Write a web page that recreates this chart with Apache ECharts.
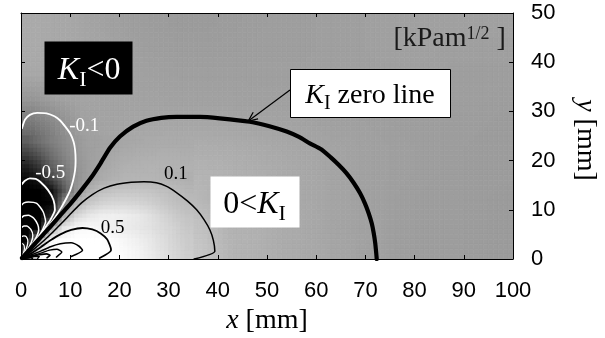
<!DOCTYPE html>
<html><head><meta charset="utf-8">
<script src="https://cdn.jsdelivr.net/npm/echarts@6/dist/echarts.min.js"></script>
<style>html,body{margin:0;padding:0;background:#fff}#c{width:605px;height:338px}</style>
</head><body><div id="c"></div>
<script>
// ---------------- data ----------------
const xTicks = [0, 10, 20, 30, 40, 50, 60, 70, 80, 90, 100];
const yTicks = [0, 10, 20, 30, 40, 50];

// shading (0 = black, 255 = white); 5 mm cells, rows from y=50 down, columns from x=0
const shadeCoarse = [
  [170,168,165,161,158,156,155,155,156,157,158,158,159,159,160,160,160,160,160,160],
  [170,168,166,163,160,158,157,157,157,158,158,158,159,159,160,160,160,159,159,159],
  [168,167,165,163,161,160,159,159,159,159,159,159,159,159,159,159,159,158,158,158],
  [150,160,164,163,162,162,161,161,161,160,160,160,159,159,159,159,158,158,158,157],
  [120,140,160,163,165,166,166,166,165,164,163,162,161,160,159,158,158,157,157,156],
  [90,130,158,166,170,172,173,173,172,170,168,166,164,162,160,159,158,157,156,156],
  [40,105,162,174,178,180,180,179,177,174,171,168,165,162,160,159,158,157,156,156],
  [5,90,185,195,196,193,189,180,177,175,171,168,165,162,160,158,157,157,156,155],
  [0,70,225,238,228,212,198,190,178,176,172,169,165,162,160,158,157,157,156,155],
  [0,210,255,255,242,222,203,195,180,177,172,169,166,163,160,158,157,157,156,155]
];
// finer 2.5 mm cells near the crack tip, rows from y=25 down, columns from x=0 to 35
const shadeFine = [
  [96,112,128,140,153,160,162,164,167,169,170,171,171,171],
  [64,85,112,133,150,159,163,168,171,173,174,175,175,174],
  [32,56,96,122,146,158,167,172,176,178,179,179,178,177],
  [10,25,70,110,145,160,171,177,180,181,181,180,178,176],
  [0,0,15,85,148,175,190,196,198,198,196,192,188,182],
  [0,0,5,135,178,200,210,215,215,213,208,200,193,187],
  [0,0,40,170,215,230,238,240,238,233,225,214,203,195],
  [0,0,172,232,248,250,246,240,236,232,226,218,210,200],
  [0,175,255,255,255,255,255,252,246,240,232,222,212,203],
  [60,255,255,255,255,255,255,255,250,244,235,225,215,205]
];

// K_I zero line
const zeroLine = [[0.2,0.2],[2,2.2],[4,4.4],[6,6.6],[8,8.9],[10.2,11.4],[12.3,14.0],[14.3,16.6],[16.2,19.5],[18.1,22.6],[20.1,24.9],[22.8,26.9],[25.5,28.1],[28.5,28.7],[31.6,28.9],[36.4,28.9],[40.4,28.6],[46.5,27.9],[50.5,27.0],[54,25.9],[56.5,24.8],[58.7,23.5],[61,22.3],[62.9,20.7],[64.6,19.1],[66.1,17.5],[67.6,15.5],[68.9,13.4],[69.9,11.3],[70.7,9.2],[71.3,7.2],[71.7,5.2],[72,3.2],[72.2,1.2],[72.3,0]];
// positive contours (black)
const posLevel01 = [[0.4,0.3],[2.5,1.9],[4.5,3.6],[6.5,5.5],[8.5,7.5],[10.2,9.3],[12.3,11.4],[14.5,13.1],[16.9,14.4],[19.5,15.2],[22.4,15.6],[25,15.7],[27.5,15.5],[29.5,14.8],[31.6,13.5],[33.8,11.8],[35.7,10],[37.2,8],[38.4,5.9],[39.1,3.8],[39.4,1.6],[35.2,0]];
const posLevel05 = [[0.5,0.3],[2,1.1],[4,2.4],[6,3.8],[8,5.0],[10.2,5.9],[12.5,6.3],[14.5,6.0],[16.2,5.2],[17.5,4.0],[18.2,2.4],[18.3,1.8],[16,0.2]];
const posLevel1 = [[0.4,0.25],[2,0.8],[4,1.6],[6,2.5],[8,3.1],[10.2,3.3],[11.8,2.6],[12.5,1.8],[10.2,0.5]];
const posLevel2 = [[0.4,0.2],[2,0.6],[4,1.2],[5.8,1.8],[7.3,2.0],[8.3,1.4],[7.2,0.4]];
const posLevel3 = [[0.3,0.15],[2,0.45],[3.8,0.85],[5.2,1.05],[5.9,0.75],[5.3,0.25]];
const posLevel4 = [[0.2,0.1],[1.5,0.3],[2.8,0.55],[3.7,0.5],[3.4,0.15]];
const posLevel5 = [[0.1,0.05],[1,0.2],[2,0.3],[2.3,0.12]];
// negative contours (white)
const negLevel01 = [[0.2,26.6],[0.8,28.3],[1.8,29.3],[3.3,29.7],[5.2,29.6],[6.8,29.0],[7.9,28.2],[9,26.9],[10,25.5],[10.7,23.8],[11,22.1],[11.1,20],[11,18.1],[10.6,16],[10,14],[9.2,12.3],[8.2,10.5],[7,8.6],[5.6,6.6],[4.1,4.6],[2.6,2.7],[1.2,1.2],[0.2,0.1]];
const negLevel05 = [[0,15],[0.8,15.9],[1.8,16.4],[3,16.3],[3.9,15.7],[5.5,14],[6.6,12],[6.9,10],[6.0,8],[4.8,6.2],[3.6,4.4],[2.4,2.7],[1.1,1.2],[0.2,0.1]];
const negLevel1 = [[0,10.8],[0.6,11.4],[1.5,11.6],[3.2,11.3],[4.5,9.6],[5.0,7.6],[4.4,6],[3.4,4.3],[2.2,2.5],[1,1.1],[0.2,0.1]];
const negLevel2 = [[0,8.3],[0.6,8.8],[1.5,8.9],[2.6,8.3],[3.4,7],[3.6,5.9],[3.2,4.6],[2.3,3],[1.3,1.5],[0.2,0.15]];
const negLevel3 = [[0,6.3],[0.6,6.7],[1.2,6.7],[2.0,6],[2.4,4.8],[2.1,3.4],[1.4,2],[0.2,0.2]];
const negLevel4 = [[0,4.5],[0.6,4.7],[1.1,4.5],[1.4,3.6],[1.2,2.5],[0.7,1.3],[0.1,0.2]];
const negLevel5 = [[0,3.2],[0.5,3.0],[0.7,2.2],[0.5,1.2],[0.1,0.3]];

// contour value labels [text, x, y]
const negLabels = [['-0.1', 12.85, 27.03], ['-0.5', 5.93, 17.48]];
const posLabels = [['0.1', 31.5, 17.24], ['0.5', 18.63, 6.3]];
// annotation anchors (box centres) in data units
const noteAnchors = [[13.52, 38.88], [70.93, 33.84], [47.46, 11.61]];
const unitAnchor = [[87.13, 44.7]];
const arrowEnds = [[54.67, 34.35, 46.2, 28.05]];

// ---------------- chart ----------------
const SERIF = '"Liberation Serif","Times New Roman",serif';
const SANS = '"Liberation Sans",Arial,sans-serif';
const measureCtx = document.createElement('canvas').getContext('2d');
function textWidth(t, size, italic) {
  measureCtx.font = (italic ? 'italic ' : '') + size + 'px ' + SERIF;
  return measureCtx.measureText(t).width;
}

function cellData(grid, cell, yTop) {
  const out = [];
  grid.forEach(function (row, r) {
    row.forEach(function (v, c) { out.push([(c + 0.5) * cell, yTop - (r + 0.5) * cell, v]); });
  });
  return out;
}
// smooth shading inside each cell from the neighbouring read values
function sampler(grid, cell, yTop) {
  const R = grid.length, C = grid[0].length;
  return function (x, y) {
    let fc = x / cell - 0.5, fr = (yTop - y) / cell - 0.5;
    fc = Math.max(0, Math.min(C - 1, fc)); fr = Math.max(0, Math.min(R - 1, fr));
    const c0 = Math.min(C - 2, Math.floor(fc)), r0 = Math.min(R - 2, Math.floor(fr));
    const t = fc - c0, u = fr - r0;
    const a = grid[r0][c0], b = grid[r0][c0 + 1], c = grid[r0 + 1][c0], d = grid[r0 + 1][c0 + 1];
    return (a * (1 - t) + b * t) * (1 - u) + (c * (1 - t) + d * t) * u;
  };
}
function cellRenderer(grid, cell, yTop, n) {
  const sample = sampler(grid, cell, yTop);
  return function (params, api) {
    const x = api.value(0), y = api.value(1);
    const children = [];
    const s = cell / n;
    for (let i = 0; i < n; i++) {
      for (let j = 0; j < n; j++) {
        const xa = x - cell / 2 + i * s, yb = y + cell / 2 - j * s;
        const g = Math.max(0, Math.min(255, Math.round(sample(xa + s / 2, yb - s / 2))));
        const p0 = api.coord([xa, yb]);
        const p1 = api.coord([xa + s, yb - s]);
        const col = 'rgb(' + g + ',' + g + ',' + g + ')';
        children.push({ type: 'rect', shape: { x: p0[0], y: p0[1], width: p1[0] - p0[0], height: p1[1] - p0[1] },
          style: { fill: col, stroke: col, lineWidth: 0.7 } });
      }
    }
    return { type: 'group', children: children };
  };
}
function contour(data, color, width) {
  return { type: 'line', data: data, xAxisIndex: 0, yAxisIndex: 0, symbol: 'none', showSymbol: false,
    smooth: 0.2, silent: true, animation: false, z: 3, clip: true,
    lineStyle: { color: color, width: width, cap: 'round', join: 'round' }, emphasis: { disabled: true } };
}
function textSeries(list, color) {
  return { type: 'custom', xAxisIndex: 0, yAxisIndex: 0, silent: true, animation: false, z: 4, clip: false,
    data: list.map(function (d) { return [d[1], d[2]]; }), encode: { x: 0, y: 1 },
    renderItem: function (params, api) {
      const p = api.coord([api.value(0), api.value(1)]);
      return { type: 'text', x: p[0], y: p[1], style: { text: list[params.dataIndex][0], fill: color,
        fontFamily: SERIF, fontSize: 19, align: 'center', verticalAlign: 'middle' } };
    } };
}
// note boxes: parts = [text, size, italic, drop below the baseline]
const noteStyles = [
  { w: 88, h: 53, fill: '#000', stroke: null, color: '#fff', dx: 1.7, base: 13,
    parts: [['K', 32, true, 0], ['I', 22, false, 7], ['<0', 32, false, 0]] },
  { w: 160, h: 48, fill: '#fff', stroke: '#000', color: '#000', dx: 0, base: 12.5,
    parts: [['K', 28, true, 0], ['I', 20, false, 5], [' zero line', 28, false, 0]] },
  { w: 89, h: 51, fill: '#fff', stroke: null, color: '#000', dx: 0, base: 13,
    parts: [['0<', 32, false, 0], ['K', 32, true, 0], ['I', 22, false, 7]] }
];

const axisBase = {
  type: 'value', z: 10,
  axisLine: { show: true, onZero: false, lineStyle: { color: '#000', width: 1 } },
  axisTick: { show: true, inside: true, length: 4, lineStyle: { color: '#000', width: 1 } },
  splitLine: { show: false }, minorTick: { show: false }
};

const chart = echarts.init(document.getElementById('c'), null, { renderer: 'canvas' });
chart.setOption({
  backgroundColor: '#fff',
  animation: false,
  grid: { left: 21, top: 13, width: 492, height: 246, containLabel: false, outerBoundsMode: 'none' },
  xAxis: [
    Object.assign({}, axisBase, {
      position: 'bottom', min: xTicks[0], max: xTicks[xTicks.length - 1], interval: xTicks[1] - xTicks[0],
      axisLabel: { show: true, color: '#000', fontFamily: SANS, fontSize: 22, margin: 21 },
      name: '{i|x} [mm]', nameLocation: 'middle', nameGap: 48,
      nameTextStyle: { color: '#000', fontFamily: SERIF, fontSize: 28,
        rich: { i: { fontFamily: SERIF, fontStyle: 'italic', fontSize: 28, color: '#000' } } }
    }),
    Object.assign({}, axisBase, {
      position: 'top', min: xTicks[0], max: xTicks[xTicks.length - 1], interval: xTicks[1] - xTicks[0],
      axisLabel: { show: false }
    })
  ],
  yAxis: [
    Object.assign({}, axisBase, {
      position: 'right', min: yTicks[0], max: yTicks[yTicks.length - 1], interval: yTicks[1] - yTicks[0],
      axisLabel: { show: true, color: '#000', fontFamily: SANS, fontSize: 22, margin: 18, padding: [5, 0, 0, 0] },
      name: '{i|y} [mm]', nameLocation: 'middle', nameGap: 58, nameRotate: -90,
      nameTextStyle: { color: '#000', fontFamily: SERIF, fontSize: 28, padding: [0, 0, 0, 8],
        rich: { i: { fontFamily: SERIF, fontStyle: 'italic', fontSize: 28, color: '#000' } } }
    }),
    Object.assign({}, axisBase, {
      position: 'left', min: yTicks[0], max: yTicks[yTicks.length - 1], interval: yTicks[1] - yTicks[0],
      axisLabel: { show: false }
    })
  ],
  series: [
    { type: 'custom', xAxisIndex: 0, yAxisIndex: 0, silent: true, animation: false, z: 1, clip: true,
      data: cellData(shadeCoarse, 5, 50), encode: { x: 0, y: 1 }, renderItem: cellRenderer(shadeCoarse, 5, 50, 5) },
    { type: 'custom', xAxisIndex: 0, yAxisIndex: 0, silent: true, animation: false, z: 1, clip: true,
      data: cellData(shadeFine, 2.5, 25), encode: { x: 0, y: 1 }, renderItem: cellRenderer(shadeFine, 2.5, 25, 3) },
    contour(negLevel01, '#fff', 1.8),
    contour(negLevel05, '#fff', 1.8),
    contour(negLevel1, '#fff', 1.5),
    contour(negLevel2, '#fff', 1.5),
    contour(negLevel3, '#fff', 1.4),
    contour(negLevel4, '#fff', 1.3),
    contour(negLevel5, '#fff', 1.2),
    contour(posLevel01, '#000', 1.5),
    contour(posLevel05, '#000', 1.8),
    contour(posLevel1, '#000', 1.6),
    contour(posLevel2, '#000', 1.5),
    contour(posLevel3, '#000', 1.6),
    contour(posLevel4, '#000', 1.6),
    contour(posLevel5, '#000', 1.6),
    contour(zeroLine, '#000', 4.2),
    textSeries(negLabels, '#fff'),
    textSeries(posLabels, '#000'),
    { type: 'custom', xAxisIndex: 0, yAxisIndex: 0, silent: true, animation: false, z: 5, clip: false,
      data: noteAnchors, encode: { x: 0, y: 1 },
      renderItem: function (params, api) {
        const s = noteStyles[params.dataIndex];
        const p = api.coord([api.value(0), api.value(1)]);
        const x0 = Math.round(p[0] - s.w / 2) + 0.5, y0 = Math.round(p[1] - s.h / 2) + 0.5;
        const children = [{ type: 'rect', shape: { x: x0, y: y0, width: s.w, height: s.h },
          style: { fill: s.fill, stroke: s.stroke, lineWidth: 1 } }];
        const widths = s.parts.map(function (q) { return textWidth(q[0], q[1], q[2]); });
        const total = widths.reduce(function (a, b) { return a + b; }, 0);
        let cx = p[0] + s.dx - total / 2;
        const baseline = p[1] + s.base;
        s.parts.forEach(function (q, i) {
          children.push({ type: 'text', x: cx, y: baseline - 0.33 * q[1] + q[3],
            style: { text: q[0], fill: s.color, fontFamily: SERIF, fontSize: q[1],
              fontStyle: q[2] ? 'italic' : 'normal', align: 'left', verticalAlign: 'middle' } });
          cx += widths[i];
        });
        return { type: 'group', children: children };
      } },
    { type: 'custom', xAxisIndex: 0, yAxisIndex: 0, silent: true, animation: false, z: 5, clip: false,
      data: unitAnchor, encode: { x: 0, y: 1 },
      renderItem: function (params, api) {
        const p = api.coord([api.value(0), api.value(1)]);
        return { type: 'text', x: p[0], y: p[1], style: {
          text: '{m|[kPam}{p|1/2}{m| ]}', align: 'center', verticalAlign: 'middle', fill: '#1a1a1a',
          fontFamily: SERIF, fontSize: 28,
          rich: {
            m: { fontFamily: SERIF, fontSize: 28, lineHeight: 28, verticalAlign: 'bottom', fill: '#1a1a1a' },
            p: { fontFamily: SERIF, fontSize: 18, lineHeight: 16, verticalAlign: 'top', fill: '#1a1a1a' }
          } } };
      } },
    { type: 'custom', xAxisIndex: 0, yAxisIndex: 0, silent: true, animation: false, z: 6, clip: false,
      data: arrowEnds, encode: { x: [0, 2], y: [1, 3] },
      renderItem: function (params, api) {
        const a = api.coord([api.value(0), api.value(1)]);
        const b = api.coord([api.value(2), api.value(3)]);
        const ang = Math.atan2(b[1] - a[1], b[0] - a[0]);
        const L = 10, sp = 0.42;
        const h1 = [b[0] - L * Math.cos(ang - sp), b[1] - L * Math.sin(ang - sp)];
        const h2 = [b[0] - L * Math.cos(ang + sp), b[1] - L * Math.sin(ang + sp)];
        return { type: 'group', children: [
          { type: 'line', shape: { x1: a[0], y1: a[1], x2: b[0], y2: b[1] }, style: { stroke: '#000', lineWidth: 1.2 } },
          { type: 'polyline', shape: { points: [h1, b, h2] }, style: { stroke: '#000', lineWidth: 1.2, fill: null } }
        ] };
      } }
  ]
});
</script>
</body></html>
